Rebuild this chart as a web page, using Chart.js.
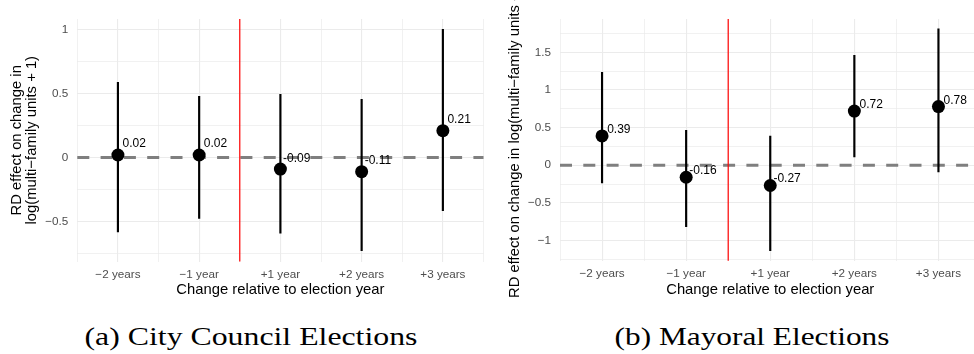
<!DOCTYPE html>
<html>
<head>
<meta charset="utf-8">
<script src="https://cdn.jsdelivr.net/npm/chart.js@4.4.1/dist/chart.umd.min.js"></script>
<style>
  body { margin: 0; width: 974px; height: 354px; overflow: hidden; background: #fff; position: relative; }
  canvas { position: absolute; top: 0; }
  #council { left: 0; }
  #mayor { left: 490px; }
  .caption {
    position: absolute; top: 324px; line-height: 1;
    font-family: 'Liberation Serif', 'DejaVu Serif', serif; font-size: 25.5px;
    color: #000; white-space: nowrap; transform: translateX(-50%);
  }
</style>
</head>
<body>
<canvas id="council" width="490" height="300"></canvas>
<canvas id="mayor" width="497" height="300"></canvas>
<div class="caption" data-w="333" style="left:250.5px">(a) City Council Elections</div>
<div class="caption" data-w="275" style="left:751.5px">(b) Mayoral Elections</div>
<script>
// x categories, placed at 1..5 on a linear axis
const categories = ['−2 years', '−1 year', '+1 year', '+2 years', '+3 years'];
const catPos = [1, 2, 3, 4, 5];
const electionGap = 2.5; // between -1 and +1 year

// (a) city council: RD estimate and confidence interval
const councilEst = [0.02, 0.02, -0.09, -0.11, 0.21];
const councilLow = [-0.58, -0.475, -0.59, -0.727, -0.415];
const councilHigh = [0.587, 0.477, 0.493, 0.454, 1.0];
const councilTicks = [-0.5, 0, 0.5, 1];
const councilTickLabels = ['−0.5', '0', '0.5', '1'];

// (b) mayoral
const mayorEst = [0.39, -0.16, -0.27, 0.72, 0.78];
const mayorLow = [-0.235, -0.816, -1.136, 0.11, -0.089];
const mayorHigh = [1.237, 0.465, 0.386, 1.463, 1.813];
const mayorTicks = [-1, -0.5, 0, 0.5, 1, 1.5];
const mayorTickLabels = ['−1', '−0.5', '0', '0.5', '1', '1.5'];

const yTitleLines = ['RD effect on change in', 'log(multi−family units + 1)'];
const xTitle = 'Change relative to election year';

const SANS = "'Liberation Sans', Arial, sans-serif";
const GRID = '#EBEBEB';
const TICK_COLOR = '#4D4D4D';

// zero line, divider, value labels and (optionally) a free-standing y title
const panelExtras = {
  id: 'panelExtras',
  beforeDatasetsDraw(chart) {
    const { ctx, chartArea: a, scales: { x, y } } = chart;
    ctx.save();
    const y0 = y.getPixelForValue(0);
    ctx.strokeStyle = '#7F7F7F';
    ctx.lineWidth = 2.9;
    ctx.setLineDash([12, 11.3]);
    ctx.beginPath();
    ctx.moveTo(a.left, y0);
    ctx.lineTo(a.right, y0);
    ctx.stroke();

    const xe = x.getPixelForValue(electionGap);
    ctx.setLineDash([]);
    ctx.strokeStyle = '#FF0000';
    ctx.lineWidth = 1.2;
    ctx.beginPath();
    ctx.moveTo(xe, a.top);
    ctx.lineTo(xe, a.bottom);
    ctx.stroke();
    ctx.restore();
  },
  afterDatasetsDraw(chart, args, opts) {
    const { ctx, scales: { x, y } } = chart;
    ctx.save();
    ctx.font = '12px ' + SANS;
    ctx.fillStyle = '#000';
    ctx.textAlign = 'center';
    ctx.textBaseline = 'middle';
    opts.est.forEach((v, i) => {
      const px = x.getPixelForValue(catPos[i] + 0.2);
      const py = y.getPixelForValue(v + 0.085);
      ctx.fillText(v.toFixed(2), px, py);
    });
    ctx.restore();
  },
  afterDraw(chart, args, opts) {
    if (!opts.sideTitle) return;
    const { ctx } = chart;
    ctx.save();
    ctx.translate(opts.sideTitle.x, opts.sideTitle.y);
    ctx.rotate(-Math.PI / 2);
    ctx.font = '14.8px ' + SANS;
    ctx.fillStyle = '#000';
    ctx.textAlign = 'center';
    ctx.textBaseline = 'middle';
    ctx.fillText(opts.sideTitle.text, 0, 0);
    ctx.restore();
  }
};

function quarterTicks(min, max) {
  const out = [];
  for (let v = Math.ceil(min * 4) / 4; v <= max + 1e-9; v += 0.25) out.push({ value: Math.round(v * 100) / 100 });
  return out;
}

function makePanel(id, p) {
  const points = catPos.map((c, i) => ({ x: c, y: p.est[i] }));
  const ranges = catPos.map((c, i) => ({ x: c, y: [p.low[i], p.high[i]] }));

  return new Chart(document.getElementById(id), {
    type: 'scatter',
    data: {
      datasets: [
        {
          type: 'scatter',
          data: points,
          backgroundColor: '#000',
          borderColor: '#000',
          borderWidth: 0,
          pointRadius: 6.5,
          pointHoverRadius: 6.5,
          order: 0
        },
        {
          type: 'bar',
          data: ranges,
          backgroundColor: '#000',
          barThickness: 1.5,
          order: 1
        }
      ]
    },
    options: {
      responsive: false,
      animation: false,
      events: [],
      // the x axis reserves its tick padding on the right, so the canvas is a bit wider
      layout: { padding: { top: 19, right: 0, bottom: 0, left: 0 } },
      plugins: {
        legend: { display: false },
        tooltip: { enabled: false },
        panelExtras: { est: p.est, sideTitle: p.sideTitle }
      },
      scales: {
        x: {
          type: 'linear',
          min: 0.5,
          max: 5.5,
          offset: false,
          afterBuildTicks: s => { s.ticks = [0.5, 1, 1.5, 2, 2.5, 3, 3.5, 4, 4.5, 5, 5.5].map(v => ({ value: v })); },
          afterFit: s => { s.height = p.xHeight; },
          grid: {
            color: GRID,
            lineWidth: c => (c.tick && Number.isInteger(c.tick.value)) ? 1.1 : 0.7,
            drawTicks: false,
            offset: false
          },
          border: { display: false },
          ticks: {
            autoSkip: false,
            maxRotation: 0,
            padding: 6,
            color: TICK_COLOR,
            font: { family: SANS, size: 11.7 },
            callback: v => Number.isInteger(v) ? categories[v - 1] : ''
          },
          title: {
            display: true,
            text: xTitle,
            color: '#000',
            font: { family: SANS, size: 14.8, lineHeight: 1.04 },
            padding: { top: 0, bottom: 2.5 }
          }
        },
        y: {
          type: 'linear',
          min: p.yMin,
          max: p.yMax,
          afterBuildTicks: s => { s.ticks = quarterTicks(p.yMin, p.yMax); },
          afterFit: s => { s.width = p.yWidth; },
          grid: {
            color: GRID,
            lineWidth: c => (c.tick && p.tickVals.includes(c.tick.value)) ? 1.1 : 0.7,
            drawTicks: false
          },
          border: { display: false },
          ticks: {
            padding: 9,
            color: TICK_COLOR,
            font: { family: SANS, size: 11.7 },
            callback: v => {
              const i = p.tickVals.indexOf(v);
              return i >= 0 ? p.tickLabels[i] : '';
            }
          },
          title: {
            display: !!p.yTitle,
            text: p.yTitle || '',
            color: '#000',
            font: { family: SANS, size: 14.8, lineHeight: 1.04 },
            padding: { top: 9, bottom: 0 }
          }
        }
      }
    },
    plugins: [panelExtras]
  });
}

makePanel('council', {
  est: councilEst, low: councilLow, high: councilHigh,
  tickVals: councilTicks, tickLabels: councilTickLabels,
  yMin: -0.811, yMax: 1.081,
  yWidth: 77.3, xHeight: 38.5,
  yTitle: yTitleLines
});

makePanel('mayor', {
  est: mayorEst, low: mayorLow, high: mayorHigh,
  tickVals: mayorTicks, tickLabels: mayorTickLabels,
  yMin: -1.27, yMax: 1.945,
  yWidth: 70, xHeight: 39.3,
  sideTitle: { text: yTitleLines.join(' '), x: 25, y: 136.5 }
});

// the serif captions run wider than the installed serif face; stretch to width
document.querySelectorAll('.caption').forEach(el => {
  const k = Number(el.dataset.w) / el.offsetWidth;
  el.style.transform = 'translateX(-50%) scaleX(' + k.toFixed(3) + ')';
});
</script>
</body>
</html>
